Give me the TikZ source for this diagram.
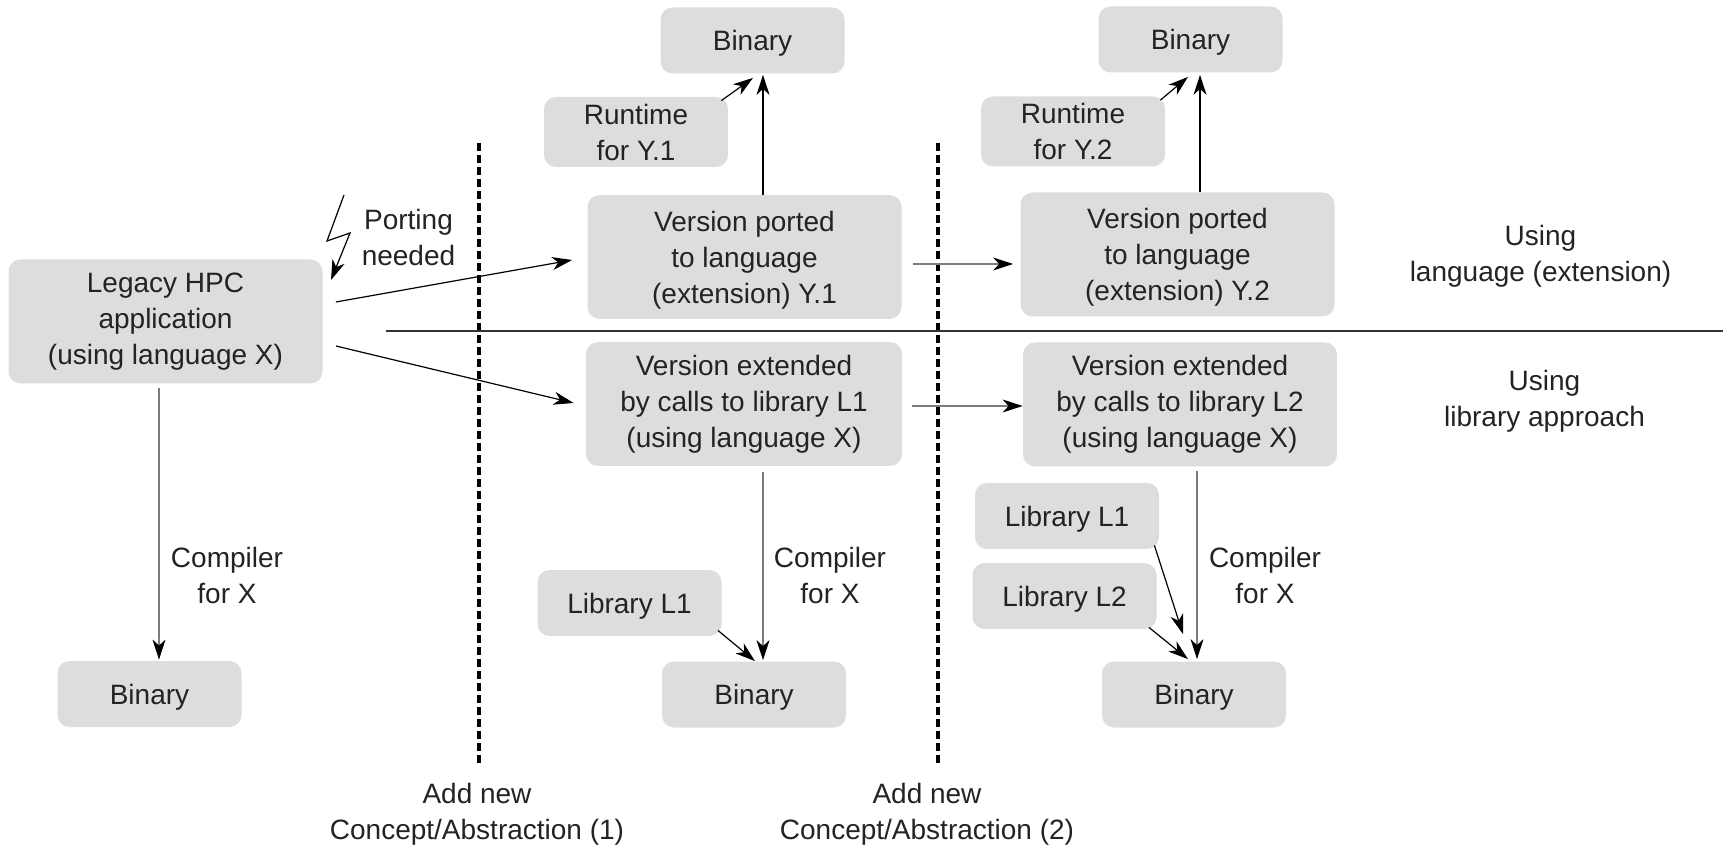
\documentclass[tikz,border=0pt]{standalone}
\usepackage{fontspec}
\setmainfont{Liberation Sans}
\usetikzlibrary{arrows.meta, calc}
\definecolor{boxfill}{RGB}{221,221,221}
\definecolor{linegray}{RGB}{125,125,125}
\definecolor{inkgray}{RGB}{35,35,35}

\begin{document}
\begin{tikzpicture}[x=0.5pt, y=-0.5pt,
  every node/.style={font=\fontsize{14}{18}\selectfont, text=inkgray},
  box/.style={fill=boxfill, rounded corners=6pt, align=center, inner sep=0pt},
  small/.style={box, minimum width=92pt, minimum height=33pt, text depth=0pt},
  wide/.style={box, minimum width=157pt, minimum height=62pt},
  ported/.style={wide, text depth=0pt},
  arr/.style={-{Stealth[length=10pt, width=6.5pt, inset=3pt]}, line width=0.6pt},
  garr/.style={line width=0.6pt, draw=linegray, -{Stealth[length=10pt, width=6.5pt, inset=3pt, black]}},
  sep/.style={line width=1.6pt, dash pattern=on 4pt off 2pt},
  lbl/.style={align=center}]
  \useasboundingbox (0,0) rectangle (1723,849);

  % boxes
  \node[wide] (legacy) at (165.5,321.5) {Legacy HPC\\application\\(using language X)};
  \node[small] (binA) at (149.5,694) {Binary};

  \node[small] (binT1) at (752.5,40.5) {Binary};
  \node[small, minimum height=35pt] (rtY1) at (636,132) {Runtime\\for Y.1};
  \node[ported] (portY1) at (744.5,257) {Version ported\\to language\\(extension) Y.1};
  \node[wide, minimum width=158pt] (extL1) at (744,404) {Version extended\\by calls to library L1\\(using language X)};
  \node[small] (libA) at (629.5,603) {Library L1};
  \node[small] (binB) at (754,694.5) {Binary};

  \node[small] (binT2) at (1190.5,39.5) {Binary};
  \node[small, minimum height=35pt] (rtY2) at (1073,131.5) {Runtime\\for Y.2};
  \node[ported] (portY2) at (1177.5,254.5) {Version ported\\to language\\(extension) Y.2};
  \node[wide] (extL2) at (1180,404.5) {Version extended\\by calls to library L2\\(using language X)};
  \node[small] (libB1) at (1067,516) {Library L1};
  \node[small] (libB2) at (1064.5,596) {Library L2};
  \node[small] (binC) at (1194,694.5) {Binary};

  % labels
  \node[lbl] (porting) at (408.5,237.5) {Porting\\needed};
  \node[lbl] (compA) at (227,575) {Compiler\\for X};
  \node[lbl] (compB) at (830,575) {Compiler\\for X};
  \node[lbl] (compC) at (1265,575) {Compiler\\for X};
  \node[lbl] (useLang) at (1540.5,256.5) {Using\\language (extension)};
  \node[lbl] (useLib) at (1544.5,401.5) {Using\\library approach};
  \node[lbl] (addA) at (477,814) {Add new\\Concept/Abstraction (1)};
  \node[lbl] (addB) at (927,814) {Add new\\Concept/Abstraction (2)};

  % separators
  \draw[sep] (479,143) -- (479,764);
  \draw[sep] (938,143) -- (938,764);
  \draw[line width=0.8pt, black!80] (386,331) -- (1723,331);

  % porting bolt
  \draw[arr] (344,195) -- (327,241) -- (350,233) -- (331,280);

  % connectors
  \draw[arr] ($(legacy.east)+(13,-19.5)$) -- ($(portY1.west)+(-15,3)$);
  \draw[arr] ($(legacy.east)+(13,24.5)$) -- ($(extL1.west)+(-12,-1)$);
  \draw[garr] ($(portY1.east)+(11,7)$) -- ($(portY2.west)+(-7,9.5)$);
  \draw[garr] ($(extL1.east)+(10,2)$) -- ($(extL2.west)+(0,1.5)$);

  \coordinate (u1) at ($(binT1.south)+(10.5,1)$);
  \coordinate (u2) at ($(binT2.south)+(9.5,2)$);
  \draw[arr] (u1 |- portY1.north) -- (u1);
  \draw[arr] (u2 |- portY2.north) -- (u2);
  \draw[arr] ($(rtY1.north east)+(-7,4)$) -- ($(binT1.south)+(0.5,4)$);
  \draw[arr] ($(rtY2.north east)+(-5,4)$) -- ($(binT2.south)+(-2.5,4)$);

  \coordinate (d0) at ($(binA.north)+(9.5,-1)$);
  \coordinate (d1) at ($(binB.north)+(9,-1)$);
  \coordinate (d2) at ($(binC.north)+(3,-2)$);
  \draw[garr, shorten <=2pt] (d0 |- legacy.south) -- (d0);
  \draw[garr, shorten <=3pt] (d1 |- extL1.south) -- (d1);
  \draw[garr, shorten <=2pt] (d2 |- extL2.south) -- (d2);

  \draw[arr] ($(libA.south east)+(-4,-6)$) -- ($(binB.north)+(1,0)$);
  \draw[arr] ($(libB1.south east)+(-5,-4)$) -- ($(binC.north)+(-11,-27)$);
  \draw[arr] ($(libB2.south east)+(-8,-2)$) -- ($(binC.north)+(-6,-2)$);
\end{tikzpicture}
\end{document}
